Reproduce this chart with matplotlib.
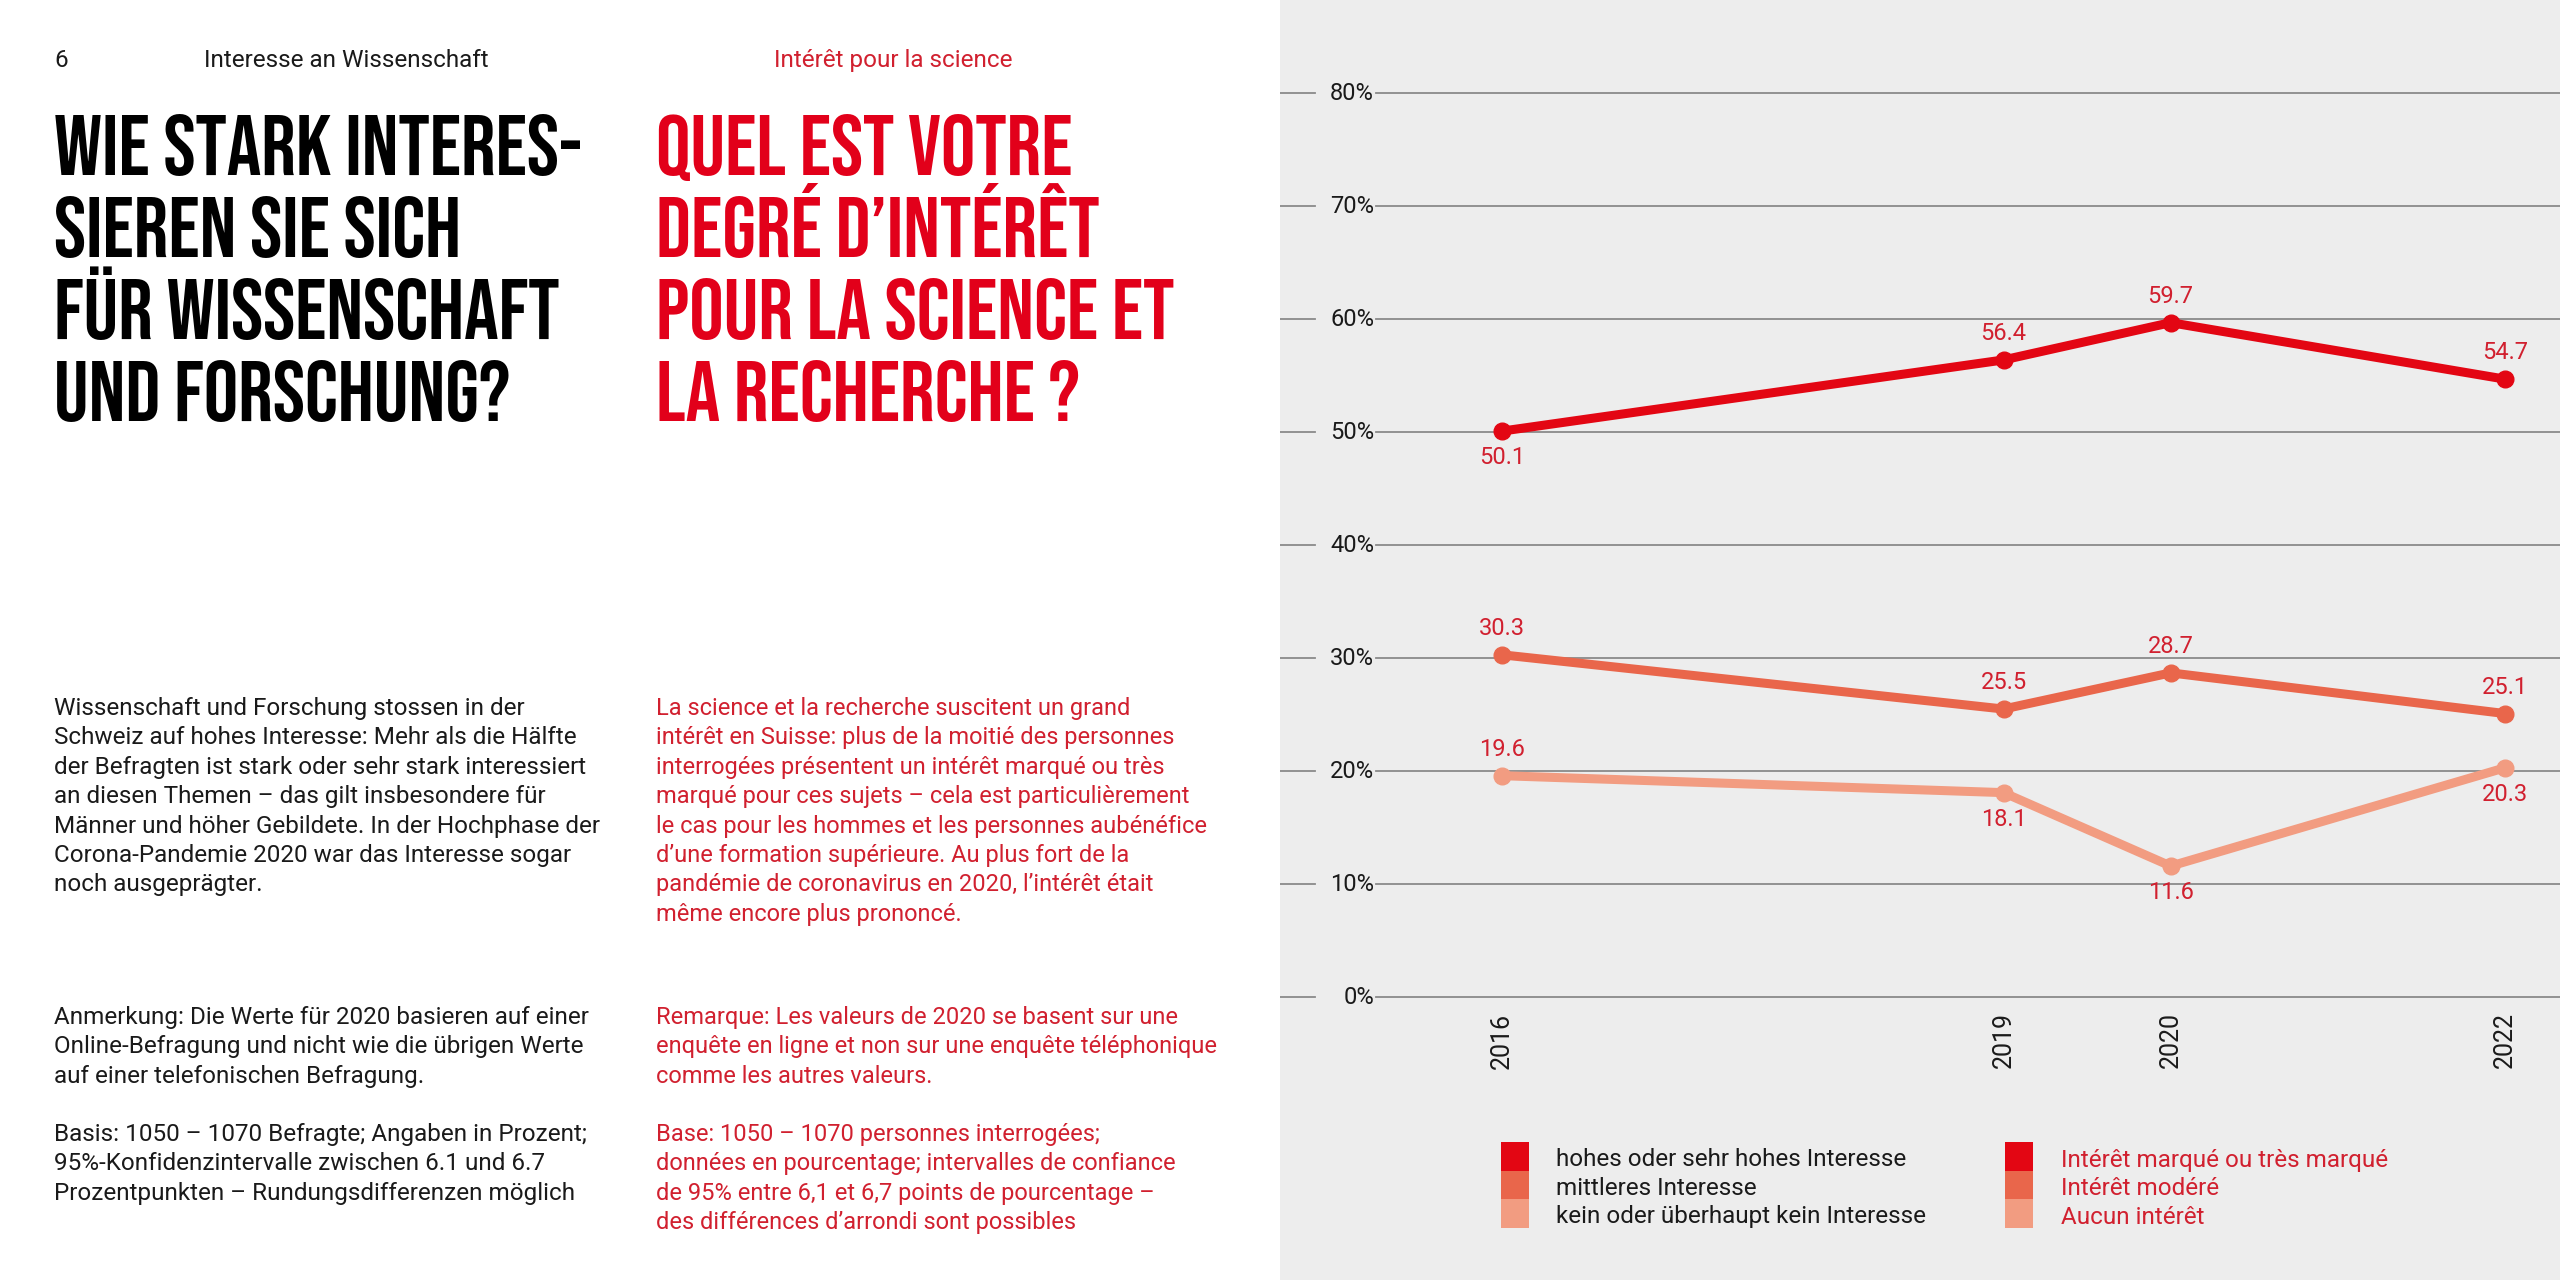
import matplotlib
matplotlib.use("Agg")
import matplotlib.pyplot as plt
from matplotlib import font_manager
from matplotlib.patches import Rectangle

# Daten
years = [2016, 2019, 2020, 2022]
high = [50.1, 56.4, 59.7, 54.7]
medium = [30.3, 25.5, 28.7, 25.1]
low = [19.6, 18.1, 11.6, 20.3]
yticks = [0, 10, 20, 30, 40, 50, 60, 70, 80]

legend_de = ["hohes oder sehr hohes Interesse", "mittleres Interesse", "kein oder überhaupt kein Interesse"]
legend_fr = ["Intérêt marqué ou très marqué", "Intérêt modéré", "Aucun intérêt"]

header_de = "Interesse an Wissenschaft"
header_fr = "Intérêt pour la science"
page_no = "6"

title_de = ["WIE STARK INTERES-", "SIEREN SIE SICH", "FÜR WISSENSCHAFT", "UND FORSCHUNG?"]
title_fr = ["QUEL EST VOTRE", "DEGRÉ D’INTÉRÊT", "POUR LA SCIENCE ET", "LA RECHERCHE ?"]

body_de = ["Wissenschaft und Forschung stossen in der",
           "Schweiz auf hohes Interesse: Mehr als die Hälfte",
           "der Befragten ist stark oder sehr stark interessiert",
           "an diesen Themen – das gilt insbesondere für",
           "Männer und höher Gebildete. In der Hochphase der",
           "Corona-Pandemie 2020 war das Interesse sogar",
           "noch ausgeprägter."]
body_fr = ["La science et la recherche suscitent un grand",
           "intérêt en Suisse: plus de la moitié des personnes",
           "interrogées présentent un intérêt marqué ou très",
           "marqué pour ces sujets – cela est particulièrement",
           "le cas pour les hommes et les personnes aubénéfice",
           "d’une formation supérieure. Au plus fort de la",
           "pandémie de coronavirus en 2020, l’intérêt était",
           "même encore plus prononcé."]
note_de = ["Anmerkung: Die Werte für 2020 basieren auf einer",
           "Online-Befragung und nicht wie die übrigen Werte",
           "auf einer telefonischen Befragung."]
note_fr = ["Remarque: Les valeurs de 2020 se basent sur une",
           "enquête en ligne et non sur une enquête téléphonique",
           "comme les autres valeurs."]
basis_de = ["Basis: 1050 – 1070 Befragte; Angaben in Prozent;",
            "95%-Konfidenzintervalle zwischen 6.1 und 6.7",
            "Prozentpunkten – Rundungsdifferenzen möglich"]
basis_fr = ["Base: 1050 – 1070 personnes interrogées;",
            "données en pourcentage; intervalles de confiance",
            "de 95% entre 6,1 et 6,7 points de pourcentage –",
            "des différences d’arrondi sont possibles"]

# Schriften
available = {f.name for f in font_manager.fontManager.ttflist}
def pick(*names):
    for n in names:
        if n in available:
            return n
    return "DejaVu Sans"

TITLE_FONT = pick("Bebas Neue", "Oswald", "Barlow Condensed")
BODY_FONT = pick("Roboto", "Inter", "Liberation Sans")

# Farben
RED = "#e2001a"
RED_TXT = "#d1202f"
BLACK = "#1a1a1a"
C_HIGH = "#e30613"
C_MED = "#e9664b"
C_LOW = "#f29c81"
PANEL = "#ededed"
GRID = "#8a8a8a"

W, H = 2560, 1280
fig = plt.figure(figsize=(25.6, 12.8), dpi=100)

def px(x, y):
    return x / W, 1 - y / H

def put(x, y, s, **kw):
    fx, fy = px(x, y)
    fig.text(fx, fy, s, va="baseline", ha="left", **kw)

def lines(x, y0, rows, color, step=29.4, size=17.5):
    for i, r in enumerate(rows):
        put(x, y0 + i * step, r, color=color, fontsize=size, family=BODY_FONT)

# Kopfzeile
put(54, 67, page_no, color=BLACK, fontsize=17.5, family=BODY_FONT)
put(204, 67, header_de, color=BLACK, fontsize=17.5, family=BODY_FONT)
put(774, 67, header_fr, color=RED_TXT, fontsize=17.5, family=BODY_FONT)

# Titel
for i, (a, b) in enumerate(zip(title_de, title_fr)):
    y = 175 + i * 82
    put(54, y, a, color="black", fontsize=62, family=[TITLE_FONT, "DejaVu Sans"], weight="bold")
    put(656, y, b, color=RED, fontsize=62, family=[TITLE_FONT, "DejaVu Sans"], weight="bold")

# Fliesstext
lines(54, 715, body_de, BLACK)
lines(656, 715, body_fr, RED_TXT, size=17)
lines(54, 1024, note_de, BLACK)
lines(656, 1024, note_fr, RED_TXT, size=17)
lines(54, 1141, basis_de, BLACK)
lines(656, 1141, basis_fr, RED_TXT, size=17)

# Diagramm
ax = fig.add_axes([0.5, 0, 0.5, 1])
ax.set_facecolor(PANEL)
ax.set_xlim(2014.672, 2022.329)
ax.set_ylim(-25.04, 88.26)
for s in ax.spines.values():
    s.set_visible(False)
ax.spines["bottom"].set_position(("data", 0))

for t in yticks:
    ax.axhline(t, xmin=0, xmax=0.0273, color=GRID, lw=1.3, zorder=1)
    ax.axhline(t, xmin=0.075, xmax=1, color=GRID, lw=1.3, zorder=1)

ax.set_yticks(yticks)
ax.set_yticklabels([f"{t}%" for t in yticks], family=BODY_FONT, fontsize=17, color=BLACK)
ax.tick_params(axis="y", length=0, pad=-67.7)
for lab in ax.get_yticklabels():
    lab.set_verticalalignment("center")

ax.set_xticks(years)
ax.set_xticklabels([str(y) for y in years], family=BODY_FONT, fontsize=18, color=BLACK, rotation=90)
ax.tick_params(axis="x", length=0, pad=11)

series = [(high, C_HIGH, [-1, 1, 1, 1]),
          (medium, C_MED, [1, 1, 1, 1]),
          (low, C_LOW, [1, -1, -1, -1])]
for vals, col, sides in series:
    ax.plot(years, vals, color=col, lw=6.5, marker="o", ms=12,
            solid_capstyle="round", solid_joinstyle="round", zorder=3)
    for x, v, sd in zip(years, vals, sides):
        ax.annotate(f"{v:.1f}", (x, v), xytext=(0, 19 * sd), textcoords="offset points",
                    ha="center", va="center", fontsize=17, family=BODY_FONT, color=RED_TXT)

# Legende
box_w, box_h = 28, 28.5
for bx, tx, labels, tcol in [(1501, 1556, legend_de, BLACK), (2005, 2061, legend_fr, RED_TXT)]:
    for i, (c, lab) in enumerate(zip((C_HIGH, C_MED, C_LOW), labels)):
        top = 1142 + i * box_h
        fx, fy = px(bx, top + box_h)
        fig.patches.append(Rectangle((fx, fy), box_w / W, box_h / H, transform=fig.transFigure,
                                     facecolor=c, edgecolor="none", zorder=5))
        put(tx, top + 24.5, lab, color=tcol, fontsize=17.5, family=BODY_FONT, zorder=5)

fig.savefig("out.png", dpi=100, facecolor="white")
